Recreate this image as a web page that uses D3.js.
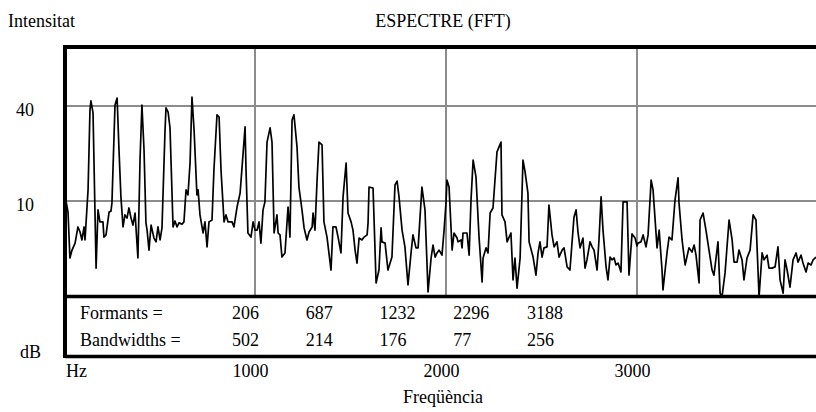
<!DOCTYPE html>
<html><head><meta charset="utf-8">
<script src="https://cdn.jsdelivr.net/npm/d3@7"></script>
<style>
body{margin:0;background:#fff;overflow:hidden}
svg text{font-family:'Liberation Serif','Times New Roman','DejaVu Serif',serif !important;fill:#000}
</style>
</head><body>
<svg id="c" width="816" height="412"></svg>
<script>
// ---- data ----
const freqHz = [5,21,31,42,58,73,84,94,105,110,126,136,141,152,168,178,188,204,209,220,236,246,251,267,278,288,298,309,319,330,340,351,361,372,387,398,408,419,429,435,445,456,471,482,492,503,513,529,534,545,555,571,581,592,602,618,628,639,649,660,670,681,696,702,712,728,738,749,759,775,785,801,812,822,838,848,859,880,890,906,922,948,953,963,979,990,1000,1011,1021,1031,1042,1052,1063,1079,1089,1100,1115,1121,1131,1141,1157,1173,1183,1194,1204,1220,1230,1246,1257,1272,1283,1299,1304,1314,1325,1335,1351,1361,1377,1398,1408,1424,1435,1450,1461,1477,1487,1503,1513,1524,1534,1545,1560,1571,1587,1592,1597,1618,1634,1649,1660,1665,1681,1696,1717,1733,1744,1754,1770,1785,1801,1817,1827,1843,1854,1874,1890,1906,1922,1932,1943,1953,1964,1979,1990,2000,2005,2016,2032,2042,2058,2063,2079,2084,2089,2110,2121,2131,2142,2157,2173,2189,2194,2210,2220,2231,2246,2267,2288,2293,2309,2320,2340,2351,2361,2372,2388,2403,2414,2429,2435,2456,2471,2482,2492,2503,2513,2529,2539,2555,2566,2581,2592,2608,2618,2634,2649,2670,2681,2691,2702,2717,2728,2738,2754,2765,2775,2791,2801,2812,2822,2838,2848,2859,2869,2880,2890,2901,2916,2927,2948,2958,2974,2990,3000,3005,3021,3032,3047,3058,3074,3084,3105,3116,3131,3136,3157,3168,3183,3199,3215,3220,3236,3252,3272,3288,3299,3309,3325,3330,3346,3361,3377,3393,3403,3424,3435,3445,3461,3482,3498,3508,3524,3534,3550,3560,3576,3592,3608,3623,3639,3655,3665,3681,3691,3707,3723,3738,3749,3765,3775,3786,3801,3817,3833,3843,3859,3869,3885,3896,3911,3922,3937];
const levelDb = [11.9,6.5,-8.0,-5.5,-3.3,1.8,0.2,-2.3,1.8,-2.3,13.5,38.7,41.6,37.8,-11.2,7.2,3.4,3.4,-1.4,-0.7,6.5,6.8,9.4,40.3,42.5,26.1,11.3,1.8,5.6,4.6,7.8,4.6,2.4,6.2,-8.0,22.9,40.3,26.1,3.1,0.8,-5.5,2.4,-1.7,-2.9,1.8,-2.3,1.5,32.4,39.4,38.1,33.1,1.8,3.7,1.8,3.1,2.7,3.4,13.5,11.9,22.0,42.8,32.4,11.9,13.5,5.6,-0.1,3.4,-4.5,3.4,4.0,19.8,37.2,36.5,19.8,3.4,5.6,3.4,3.4,1.8,8.1,12.5,33.4,19.8,-0.1,-1.4,3.4,0.8,0.8,3.4,-3.3,7.2,9.7,28.6,33.1,28.6,-0.1,5.6,-0.1,-0.7,-7.7,-6.4,8.1,-1.4,35.6,37.2,27.1,14.4,7.2,1.5,-2.3,0.2,1.8,6.2,0.8,16.6,28.6,27.7,3.4,-1.4,-11.8,1.8,1.8,-1.4,-6.4,11.3,22.0,6.2,3.4,0.8,-5.5,-9.6,-1.7,-2.3,-1.4,-0.7,3.1,14.4,14.1,-15.9,-11.8,1.5,-2.9,-3.3,-11.8,-7.7,15.1,16.3,11.3,0.8,-4.5,-16.5,-6.4,-0.7,-4.8,-4.8,14.4,7.2,-18.7,-8.0,-3.9,-7.7,-6.4,-5.5,-7.1,0.8,9.4,16.6,14.4,-5.5,-0.1,-1.7,-2.9,-2.3,-4.8,-0.1,-0.1,-7.1,10.3,22.9,17.6,-1.4,-15.6,-8.0,-4.8,-6.4,6.2,7.8,25.5,28.6,5.6,3.4,-2.9,-0.1,-14.9,-8.0,-17.5,-8.0,22.9,19.2,12.5,-2.9,-7.7,-13.4,-6.4,-2.9,-7.7,-4.8,-4.5,8.7,-0.7,-4.5,-2.9,-7.7,-5.5,-4.8,-10.8,-11.8,4.9,7.2,0.2,-4.8,-1.7,-11.2,-8.6,-2.9,-4.5,-5.5,-11.8,-2.3,11.3,0.8,-10.8,-14.9,-7.7,-8.6,-8.0,-10.2,-9.6,-12.4,9.7,9.7,-13.4,-0.4,-1.7,-4.2,-3.3,-2.9,-0.7,-4.5,-0.7,16.6,13.5,-4.8,0.8,-11.8,-18.1,-6.4,-1.4,-2.3,10.3,17.3,9.4,-2.3,-10.2,-4.8,-6.1,-3.9,-7.1,-15.9,4.0,6.2,0.8,-5.5,-11.8,-13.4,-2.9,-19.1,-20.3,-12.7,4.0,-2.3,-9.3,-9.3,-5.5,-8.6,-14.9,-8.0,-5.5,5.6,4.0,-20.3,-6.4,-8.6,-7.1,-11.2,-11.2,-10.8,-4.5,-14.9,-19.1,-8.6,-11.8,-17.2,-8.6,-6.4,-9.3,-7.1,-9.6,-12.4,-9.6,-10.2,-8.6,-7.7];
const yTicks = [10, 40];
const xTicks = [1000, 2000, 3000];
const formants = [206, 687, 1232, 2296, 3188];
const bandwidths = [502, 214, 176, 77, 256];
const rowLabels = ["Formants =", "Bandwidths ="];
const titleText = "ESPECTRE (FFT)";
const yLabel = "Intensitat";
const yUnit = "dB";
const xUnit = "Hz";
const xLabel = "Freqüència";

// ---- layout ----
const FS = 18;
const SERIF = "'Liberation Serif','Times New Roman','DejaVu Serif',serif";
const pLeft = 65, pTop = 47, plotBottom = 296.5, tableBottom = 356.5, rightEdge = 830;
const svg = d3.select("#c").attr("font-family", SERIF);
const x = d3.scaleLinear().domain([0, 4000]).range([64, 828]);
const y = d3.scaleLinear().domain([10, 40]).range([201, 106]);

// grid
svg.append("g").selectAll("line").data(yTicks).join("line")
  .attr("x1", pLeft).attr("x2", rightEdge)
  .attr("y1", d => y(d)).attr("y2", d => y(d))
  .attr("stroke", "#8c8c8c").attr("stroke-width", 2);
svg.append("g").selectAll("line").data(xTicks).join("line")
  .attr("x1", d => x(d)).attr("x2", d => x(d))
  .attr("y1", pTop).attr("y2", plotBottom)
  .attr("stroke", "#8c8c8c").attr("stroke-width", 2);

// trace
svg.append("clipPath").attr("id", "clip").append("rect")
  .attr("x", pLeft).attr("y", pTop).attr("width", rightEdge - pLeft).attr("height", plotBottom - pTop);
const pts = freqHz.map((f, i) => [f, levelDb[i]]);
svg.append("path").datum(pts)
  .attr("clip-path", "url(#clip)")
  .attr("fill", "none").attr("stroke", "#000").attr("stroke-width", 1.7)
  .attr("stroke-linejoin", "round")
  .attr("d", d3.line().x(d => x(d[0])).y(d => y(d[1])));

// frame
svg.append("path").attr("d", `M${pLeft},${tableBottom + 1.5} V${pTop} H${rightEdge}`)
  .attr("fill", "none").attr("stroke", "#000").attr("stroke-width", 4);
svg.append("line").attr("x1", pLeft).attr("x2", rightEdge).attr("y1", plotBottom).attr("y2", plotBottom)
  .attr("stroke", "#000").attr("stroke-width", 3.5);
svg.append("line").attr("x1", pLeft).attr("x2", rightEdge).attr("y1", tableBottom).attr("y2", tableBottom)
  .attr("stroke", "#000").attr("stroke-width", 3.5);

// y axis labels
const ya = svg.append("g").attr("transform", "translate(36,0)")
  .call(d3.axisLeft(y).tickValues(yTicks).tickFormat(d3.format("d")).tickSize(0).tickPadding(2));
ya.select(".domain").remove();
ya.attr("font-family", SERIF).attr("font-size", FS);
ya.selectAll("text").attr("font-family", SERIF).attr("font-size", FS).attr("dy", "0.55em");

// x axis labels
const xa = svg.append("g").attr("transform", `translate(0,${tableBottom + 1})`)
  .call(d3.axisBottom(x).tickValues(xTicks).tickFormat(d3.format("d")).tickSize(0).tickPadding(7));
xa.select(".domain").remove();
xa.attr("font-family", SERIF).attr("font-size", FS);
xa.selectAll("text").attr("font-family", SERIF).attr("font-size", FS).attr("dx", -5);

// texts
function label(xp, yp, s, anchor) {
  return svg.append("text").attr("x", xp).attr("y", yp).attr("font-size", FS)
    .attr("font-family", SERIF).attr("text-anchor", anchor || "start").text(s);
}
label(8, 27, yLabel);
label(443, 27, titleText, "middle");
label(20, 358, yUnit);
label(66, 377, xUnit);
label(443, 403, xLabel, "middle");

// formant table
const col = d3.scalePoint().domain(d3.range(formants.length)).range([232, 527]);
const rows = [formants, bandwidths];
const rowY = [319, 346];
rows.forEach((r, ri) => {
  label(80, rowY[ri], rowLabels[ri]);
  svg.append("g").selectAll("text").data(r).join("text")
    .attr("x", (d, i) => col(i)).attr("y", rowY[ri]).attr("font-size", FS)
    .attr("font-family", SERIF).text(d => d);
});
</script>
</body></html>
